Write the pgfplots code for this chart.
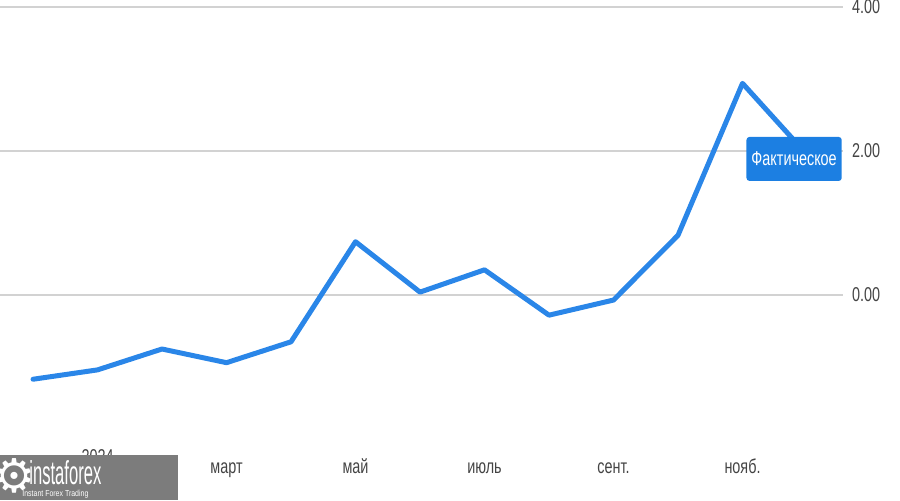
\documentclass[border=0pt]{standalone}
\usepackage{pgfplots}
\pgfplotsset{compat=1.18}
\usepackage{graphicx}
\usepackage{fontspec}
\setmainfont[FakeStretch=0.8]{Liberation Sans}
\newfontfamily\narrowfont[FakeStretch=0.72]{Liberation Sans}
\newfontfamily\symfont{DejaVu Sans}

\definecolor{lineblue}{HTML}{2A86E8}
\definecolor{boxblue}{HTML}{1C7FE2}
\definecolor{gridgrey}{HTML}{D2D2D2}
\definecolor{ticktext}{HTML}{444444}
\definecolor{wmgrey}{HTML}{7C7C7C}

% month index: 0 = Dec 2023, 1 = Jan 2024, ..., 12 = Dec 2024
\pgfplotstableread{
m   v
0  -1.17
1  -1.04
2  -0.75
3  -0.94
4  -0.65
5   0.74
6   0.04
7   0.35
8  -0.28
9  -0.07
10  0.83
11  2.94
12  1.95
}\actual

\begin{document}
\begin{tikzpicture}
\useasboundingbox (0,0) rectangle (450pt,250pt);
\begin{axis}[
    at={(0pt,30.5pt)}, anchor=south west,
    scale only axis,
    width=421.5pt, height=216pt,
    xmin=-0.512, xmax=12.558,
    ymin=-2, ymax=4,
    clip=false,
    axis line style={draw=none},
    tick style={draw=none},
    ytick={0,2,4},
    ymajorgrids,
    grid style={gridgrey, line width=0.8pt},
    yticklabel pos=right,
    yticklabel style={
        /pgf/number format/.cd, fixed, fixed zerofill, precision=2,
        /pgf/number format/assume math mode=true,
        /tikz/.cd, font=\fontsize{10}{12}\narrowfont, text=ticktext, xshift=1pt},
    xtick={1,3,5,7,9,11},
    xticklabels={\raisebox{5pt}{2024}, март, май, июль, сент., нояб.},
    xticklabel style={font=\fontsize{10}{12}\narrowfont, text=ticktext,
        anchor=base, yshift=-17pt},
]
\addplot[lineblue, line width=2.5pt, line join=round, line cap=round]
    table[x=m, y=v] {\actual};
\node[fill=boxblue, text=white, rounded corners=1.5pt, inner xsep=2.5pt,
      minimum height=22pt, font=\fontsize{10}{12}\narrowfont]
    at (axis cs:11.8,1.89) {Фактическое};
\end{axis}
% watermark
\fill[wmgrey] (0pt,0pt) rectangle (89pt,22.5pt);
\node[text=white, inner sep=0pt] at (7pt,12pt) {\resizebox{!}{17pt}{\symfont ⚙}};
\node[text=white, inner sep=0pt, anchor=base west] at (14.5pt,8pt)
    {\resizebox{36pt}{12pt}{instaforex}};
\node[text=white, inner sep=0pt, anchor=base west] at (11pt,1.8pt)
    {\resizebox{33pt}{!}{Instant Forex Trading}};
\end{tikzpicture}
\end{document}
